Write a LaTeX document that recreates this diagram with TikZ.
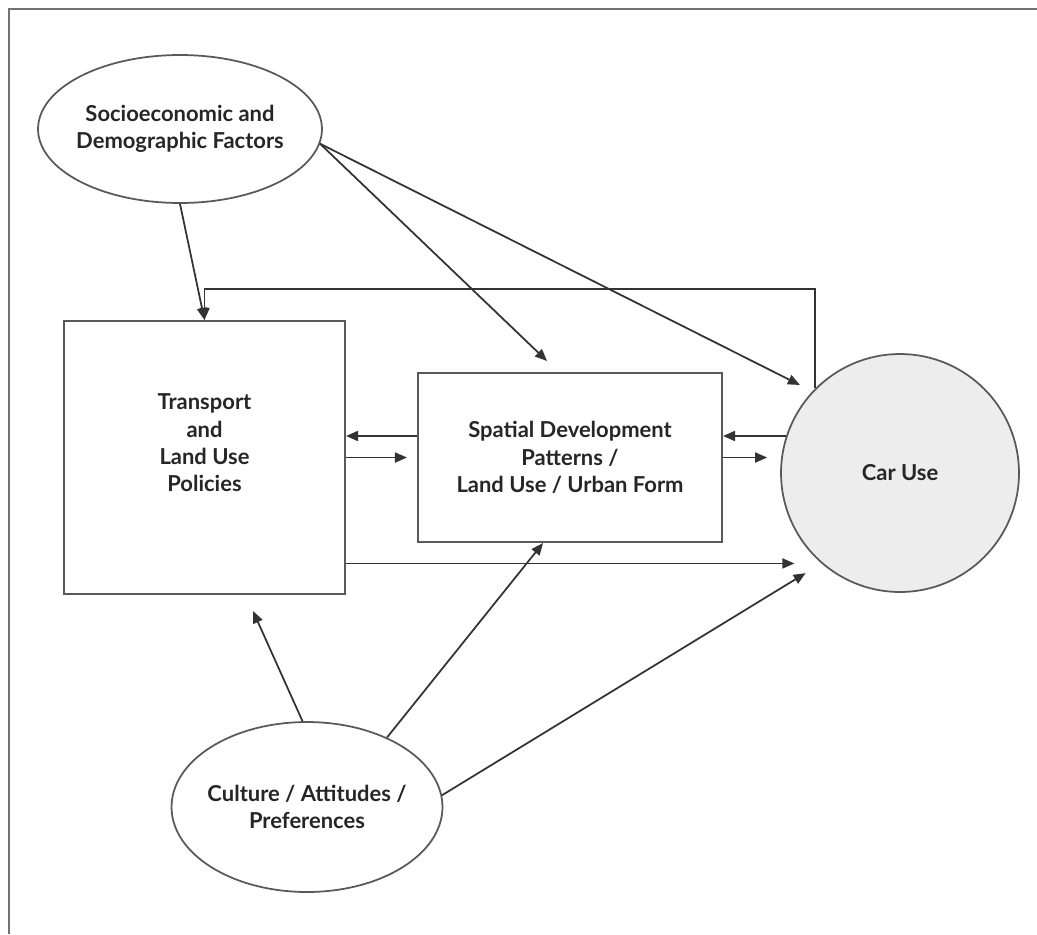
\documentclass[tikz,border=0pt]{standalone}
\usepackage{fontspec}
\setmainfont{Lato}
\usetikzlibrary{arrows.meta,shapes.geometric}

\begin{document}
\begin{tikzpicture}[x=0.02cm, y=-0.02cm,
    every node/.style={font=\bfseries\fontsize{12.5}{15.6}\selectfont, align=center, text=black!85},
    frame/.style={draw=black!55, line width=1.1pt},
    factor/.style={ellipse, draw=black!65, line width=1pt, inner ysep=0pt, inner xsep=-.09cm},
    policybox/.style={rectangle, draw=black!65, line width=1.2pt, inner sep=0pt},
    link/.style={draw=black!80, line width=1pt, -{Triangle[length=2.4mm,width=2mm]}}]
      \useasboundingbox (0, 0) rectangle (1037, 934);
      \draw[frame] (9, 934) -- (9, 9) -- (1037, 9);

      \node[factor, minimum width=5.68cm, minimum height=2.96cm] (socio) at (180, 129)
            {Socioeconomic and\\Demographic Factors};
      \node[policybox, minimum width=5.62cm, minimum height=5.46cm] (policy) at (204.5, 457.5) {};
      \node (policytext) at (204.5, 443) {Transport\\and\\Land Use\\Policies};
      \node[policybox, minimum width=6.08cm, minimum height=3.38cm] (spatial) at (570, 457.5)
            {Spatial Development\\Patterns /\\Land Use / Urban Form};
      \node[circle, draw=black!65, fill=black!7, line width=1pt, minimum size=4.76cm,
            inner sep=0pt] (car) at (900, 473) {Car Use};
      \node[factor, minimum width=5.42cm, minimum height=3.4cm] (culture) at (307, 807)
            {Culture / Attitudes /\\Preferences};

      \coordinate (fb) at (204.5, 289);
      \draw[link] (socio.south) -- (policy.north);
      \draw[link] (socio.-6) -- ([xshift=-.46cm, yshift=.22cm]spatial.north);
      \draw[link, shorten >=.28cm] (socio.-6) -- (car.137);
      \draw[link] (car.135) |- (fb) -- (policy.north);

      \draw[link] (car.162 -| spatial.west) -- (car.162 -| policy.east);
      \draw[link, shorten >=.2cm] (policy.east) -- (spatial.west);
      \draw[link] (car.162) -- (car.162 -| spatial.east);
      \draw[link, shorten >=.26cm] (spatial.east) -- (spatial.east -| car.west);
      \draw[link, shorten >=.54cm] (policy.east |- car.229) -- (car.229);

      \draw[link] (culture.93) -- ([xshift=.97cm, yshift=-.32cm]policy.south);
      \draw[link] (culture.41) -- ([xshift=-.54cm]spatial.south);
      \draw[link, shorten >=.37cm] (culture.5) -- (car.229);
\end{tikzpicture}
\end{document}
